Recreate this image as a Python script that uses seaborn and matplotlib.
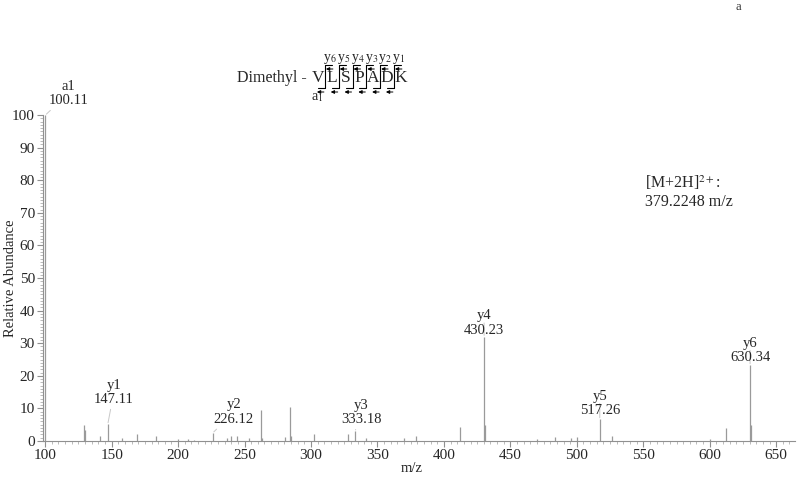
import matplotlib
matplotlib.use("Agg")
import matplotlib.pyplot as plt
from matplotlib.ticker import MultipleLocator
import seaborn as sns
import pandas as pd

# spectrum peaks (m/z, relative abundance)
mz = [100.11, 129.1, 130.1, 141.1, 147.11, 158.1, 169.1, 183.1, 200.1, 207.1,
      212.1, 226.12, 237.1, 240.1, 244.1, 253.1, 262.1, 263.1, 280.1, 284.2,
      285.2, 302.2, 328.2, 333.18, 341.2, 370.2, 379.2, 412.2, 430.23, 431.23,
      470.2, 483.3, 495.3, 500.3, 517.26, 526.3, 600.3, 612.3, 630.34, 631.34]
abundance = [100, 5.0, 3.5, 1.5, 5.2, 0.8, 2.0, 1.5, 0.5, 0.5,
             0.4, 2.5, 0.8, 1.5, 1.5, 1.0, 9.5, 1.0, 1.2, 10.5,
             1.5, 2.0, 2.0, 3.0, 0.8, 0.8, 1.5, 4.2, 32.0, 5.0,
             0.5, 1.2, 1.0, 1.2, 6.7, 1.5, 0.5, 4.0, 23.3, 5.0]

# annotated fragment ions
ion_names = ["a1", "y1", "y2", "y3", "y4", "y5", "y6"]
ion_mz = [100.11, 147.11, 226.12, 333.18, 430.23, 517.26, 630.34]
ion_abund = [100, 5.2, 2.5, 3.0, 32.0, 6.7, 23.3]
# label offsets in pixels (dx, dy)
ion_offsets = [(23, 8), (6, 18), (21, 7), (6, 5), (0, 0), (0, 2), (0, 1)]

residues = list("VLSPADK")

df = pd.DataFrame({"mz": mz, "abundance": abundance})

sns.set_style("ticks")
plt.rcParams["font.family"] = ["Liberation Serif", "DejaVu Serif"]
plt.rcParams["mathtext.fontset"] = "stix"

fig = plt.figure(figsize=(8, 4.86), dpi=100)
ax = fig.add_axes([0.054, 0.0926, 0.94, 0.6705])

peak_color = "#9a9a9a"
ax.vlines(df["mz"], 0, df["abundance"], color=peak_color, lw=0.9)

ax.set_xlim(98.5, 664.3)
ax.set_ylim(0, 100)
ax.xaxis.set_major_locator(MultipleLocator(50))
ax.xaxis.set_minor_locator(MultipleLocator(5))
ax.yaxis.set_major_locator(MultipleLocator(10))
ax.yaxis.set_minor_locator(MultipleLocator(1))
ax.tick_params(which="major", length=4, width=0.8, color="#909090", labelsize=11, pad=2)
ax.tick_params(which="minor", length=2, width=0.6, color="#b0b0b0")
sns.despine(ax=ax)
for s in ["left", "bottom"]:
    ax.spines[s].set_color("#909090")
    ax.spines[s].set_linewidth(0.8)

ax.set_xlabel("m/z", fontsize=10.5)
ax.set_ylabel("Relative Abundance", fontsize=10.5)
ax.xaxis.set_label_coords(0.49, -0.065)
ax.yaxis.set_label_coords(-0.035, 0.5)

for name, x, y, (dx, dy) in zip(ion_names, ion_mz, ion_abund, ion_offsets):
    ax.annotate(f"{name}\n{x:.2f}", xy=(x, y), xytext=(dx, dy),
                textcoords="offset pixels", ha="center", va="bottom",
                fontsize=10.5, linespacing=1.15, annotation_clip=False,
                arrowprops=dict(arrowstyle="-", color="#c8c8c8", lw=0.7,
                                shrinkA=0, shrinkB=1))

ax.text(0.80, 0.765, "[M+2H]$^{2+}$:\n379.2248 m/z", transform=ax.transAxes,
        fontsize=11.5, va="center", ha="left", linespacing=1.2)

# peptide sequence with fragment brackets (figure pixel coordinates)
W, H = 800, 486
def fx(px):
    return px / W
def fy(py):
    return 1 - py / H

x0, step, yb = 318, 13.8, 78
fig.text(fx(237), fy(yb), "Dimethyl -", ha="left", va="center", fontsize=11.5)
for i, r in enumerate(residues):
    fig.text(fx(x0 + i * step), fy(yb), r, ha="center", va="center", fontsize=12.5)

n = len(residues)
for i in range(n - 1):
    xl = x0 + (i + 0.5) * step
    fig.add_artist(plt.Line2D([fx(xl), fx(xl)], [fy(65), fy(88)], color="black", lw=0.8))
    fig.add_artist(plt.Line2D([fx(xl), fx(xl + 7)], [fy(65), fy(65)], color="black", lw=0.8))
    fig.add_artist(plt.Line2D([fx(xl - 7), fx(xl)], [fy(88), fy(88)], color="black", lw=0.8))
    ax.annotate("", xy=(fx(xl + 1), fy(69)), xytext=(fx(xl + 8), fy(69)),
                xycoords="figure fraction", textcoords="figure fraction",
                arrowprops=dict(arrowstyle="-|>", color="black", lw=0.7,
                                mutation_scale=5, shrinkA=0, shrinkB=0))
    ax.annotate("", xy=(fx(xl - 8), fy(92)), xytext=(fx(xl - 1), fy(92)),
                xycoords="figure fraction", textcoords="figure fraction",
                arrowprops=dict(arrowstyle="-|>", color="black", lw=0.7,
                                mutation_scale=5, shrinkA=0, shrinkB=0))
    fig.text(fx(xl + 5), fy(59), f"y$_{{{n - 1 - i}}}$", ha="center", va="center", fontsize=10)

fig.text(fx(x0 - 1), fy(98), "a$_1$", ha="center", va="center", fontsize=10)
fig.text(fx(738), fy(7), "a", ha="center", va="center", fontsize=9, color="#333333")

plt.savefig("out.png", dpi=100)
